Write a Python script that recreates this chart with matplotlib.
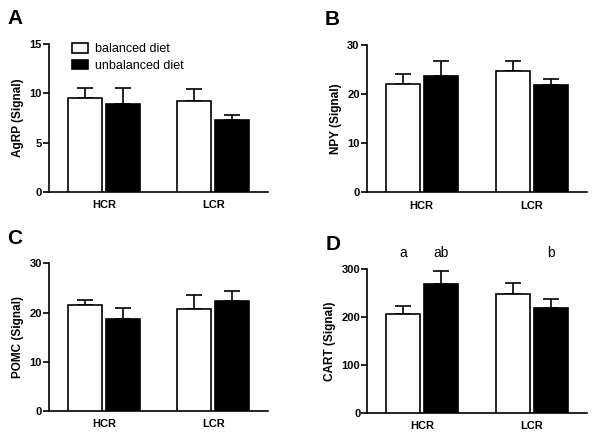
import matplotlib
matplotlib.use('Agg')
import matplotlib.pyplot as plt
import numpy as np

plt.rcParams['font.family'] = ['Liberation Sans', 'DejaVu Sans']

groups = ['HCR', 'LCR']
series = ['balanced diet', 'unbalanced diet']

# means and upper error (mean + sem) per panel: [HCR, LCR]
agrp_bal = [9.56, 9.19]
agrp_bal_err = [10.5, 10.44]
agrp_unb = [8.92, 7.33]
agrp_unb_err = [10.5, 7.83]

npy_bal = [22.0, 24.8]
npy_bal_err = [24.1, 26.7]
npy_unb = [23.6, 21.85]
npy_unb_err = [26.7, 23.1]

pomc_bal = [21.5, 20.8]
pomc_bal_err = [22.5, 23.6]
pomc_unb = [18.7, 22.3]
pomc_unb_err = [21.0, 24.3]

cart_bal = [206, 248]
cart_bal_err = [222, 270]
cart_unb = [269, 218.6]
cart_unb_err = [296, 238]
cart_letters_bal = ['a', '']
cart_letters_unb = ['ab', 'b']

panels = [
    ('A', 'AgRP (Signal)', agrp_bal, agrp_bal_err, agrp_unb, agrp_unb_err, 15, 5, [0.0817, 0.5606, 0.365, 0.3387]),
    ('B', 'NPY (Signal)', npy_bal, npy_bal_err, npy_unb, npy_unb_err, 30, 10, [0.611, 0.560, 0.367, 0.337]),
    ('C', 'POMC (Signal)', pomc_bal, pomc_bal_err, pomc_unb, pomc_unb_err, 30, 10, [0.0817, 0.0595, 0.365, 0.338]),
    ('D', 'CART (Signal)', cart_bal, cart_bal_err, cart_unb, cart_unb_err, 300, 100, [0.612, 0.0556, 0.366, 0.3288]),
]

fig = plt.figure(figsize=(6, 4.37), dpi=100)

x = np.arange(len(groups))
w = 0.31
off = 0.172

for label, ylabel, bal, bal_err, unb, unb_err, ymax, step, pos in panels:
    ax = fig.add_axes(pos)
    bal = np.array(bal)
    unb = np.array(unb)
    ax.bar(x - off, bal, w, color='white', edgecolor='black', linewidth=1.2,
           label=series[0], zorder=3)
    ax.bar(x + off, unb, w, color='black', edgecolor='black', linewidth=1.2,
           label=series[1], zorder=3)
    for xs, m, e in [(x - off, bal, bal_err), (x + off, unb, unb_err)]:
        up = np.array(e) - m
        ax.errorbar(xs, m, yerr=[np.zeros_like(up), up], fmt='none',
                    ecolor='black', elinewidth=1.2, capsize=6, capthick=1.2, zorder=2)
    ax.set_xlim(-0.5, 1.5)
    ax.set_ylim(0, ymax)
    ax.set_yticks(np.arange(0, ymax + 1, step))
    ax.set_xticks(x)
    ax.set_xticklabels(groups, fontweight='bold', fontsize=8)
    ax.tick_params(axis='x', length=0, pad=6)
    ax.tick_params(axis='y', length=4, width=1.2, labelsize=8, pad=1)
    for t in ax.get_yticklabels():
        t.set_fontweight('bold')
    ax.set_ylabel(ylabel, fontweight='bold', fontsize=8.5, labelpad=4)
    ax.spines['top'].set_visible(False)
    ax.spines['right'].set_visible(False)
    ax.spines['left'].set_linewidth(1.2)
    ax.spines['bottom'].set_linewidth(1.2)
    ax.text(-0.19, 1.17, label, transform=ax.transAxes, fontsize=15,
            fontweight='bold', va='center', ha='left')
    if label == 'A':
        ax.legend(loc='upper left', bbox_to_anchor=(0.08, 1.04), frameon=False,
                  fontsize=9, handlelength=1.35, handleheight=0.8,
                  handletextpad=0.55, labelspacing=0.35, borderaxespad=0)
    if label == 'D':
        for xi, t in zip(x - off, cart_letters_bal):
            ax.text(xi, 333, t, ha='center', va='center', fontsize=10, clip_on=False)
        for xi, t in zip(x + off, cart_letters_unb):
            ax.text(xi, 333, t, ha='center', va='center', fontsize=10, clip_on=False)

fig.savefig('out.png', dpi=100)
